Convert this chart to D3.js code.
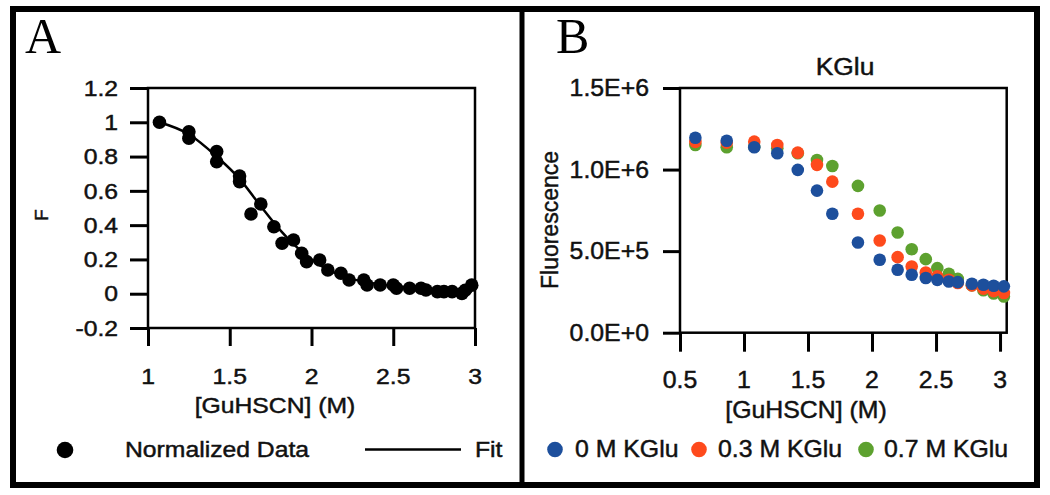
<!DOCTYPE html>
<html><head><meta charset="utf-8">
<script src="https://cdn.jsdelivr.net/npm/d3@7"></script>
<style>
html,body{margin:0;padding:0;background:#fff;}
svg{display:block;}
</style></head>
<body>
<svg id="chart" width="1050" height="495"></svg>
<script>
// ---------- Panel A data ----------
const aX = [1.07,1.25,1.25,1.42,1.42,1.56,1.56,1.63,1.69,1.77,1.82,1.89,1.94,1.97,2.05,2.10,2.18,2.23,2.32,2.34,2.42,2.50,2.52,2.60,2.67,2.70,2.77,2.81,2.86,2.92,2.94,2.98];
const aY = [1.0,0.945,0.907,0.829,0.770,0.687,0.654,0.465,0.523,0.391,0.294,0.313,0.236,0.187,0.197,0.138,0.119,0.080,0.080,0.051,0.051,0.051,0.032,0.032,0.032,0.022,0.012,0.012,0.012,0.002,0.020,0.050];
const fitX = [1.07,1.25,1.42,1.56,1.69,1.80,1.90,2.00,2.10,2.20,2.35,2.50,2.70,2.90,2.98];
const fitY = [1.0,0.93,0.80,0.67,0.51,0.38,0.28,0.20,0.14,0.10,0.065,0.045,0.025,0.015,0.012];
const aXTicks = [1,1.5,2,2.5,3];
const aXTickLabels = ["1","1.5","2","2.5","3"];
const aYTicks = [-0.2,0,0.2,0.4,0.6,0.8,1,1.2];
const aYTickLabels = ["-0.2","0","0.2","0.4","0.6","0.8","1","1.2"];
const aLegend = ["Normalized Data","Fit"];

// ---------- Panel B data ----------
const bX = [0.62,0.865,1.08,1.26,1.42,1.57,1.69,1.89,2.06,2.20,2.31,2.42,2.51,2.60,2.67,2.78,2.87,2.95,3.03];
const b0M = [1.195e6,1.177e6,1.137e6,1.100e6,0.998e6,0.871e6,0.729e6,0.553e6,0.447e6,0.386e6,0.355e6,0.335e6,0.324e6,0.314e6,0.310e6,0.300e6,0.294e6,0.288e6,0.284e6];
const b03M = [1.170e6,1.165e6,1.171e6,1.151e6,1.104e6,1.029e6,0.926e6,0.729e6,0.565e6,0.463e6,0.406e6,0.369e6,0.345e6,0.325e6,0.305e6,0.290e6,0.270e6,0.255e6,0.243e6];
const b07M = [1.151e6,1.137e6,1.140e6,1.130e6,1.100e6,1.059e6,1.022e6,0.900e6,0.749e6,0.614e6,0.512e6,0.451e6,0.396e6,0.361e6,0.330e6,0.290e6,0.260e6,0.240e6,0.222e6];
const bSeriesNames = ["0 M KGlu","0.3 M KGlu","0.7 M KGlu"];
const bXTicks = [0.5,1,1.5,2,2.5,3];
const bXTickLabels = ["0.5","1","1.5","2","2.5","3"];
const bYTicks = [0,5e5,1e6,1.5e6];
const bYTickLabels = ["0.0E+0","5.0E+5","1.0E+6","1.5E+6"];
const bTitle = "KGlu";
const xTitle = "[GuHSCN] (M)";

// ---------- drawing ----------
const svg = d3.select("#chart");
const SANS = "'Liberation Sans', Arial, Helvetica, sans-serif";
const SERIF = "'Liberation Serif', 'Times New Roman', serif";
const colors = ["#1d4f9c","#fe4a1c","#5da12f"];

function label(x, y, txt, size, anchor, sx, rot, baseline) {
  const g = svg.append("g").attr("transform", `translate(${x},${y}) rotate(${rot||0}) scale(${sx||1},1)`);
  const t = g.append("text").attr("x",0).attr("y",0)
    .attr("font-family", SANS).attr("font-size", size)
    .attr("text-anchor", anchor || "middle").attr("fill", "#111")
    .attr("stroke","#111").attr("stroke-width",0.45).text(txt);
  if (baseline) t.attr("dy", baseline);
  return t;
}

// frame
svg.append("rect").attr("x",13).attr("y",9).attr("width",1024).attr("height",476)
  .attr("fill","none").attr("stroke","#000").attr("stroke-width",6);
svg.append("line").attr("x1",522).attr("x2",522).attr("y1",9).attr("y2",485)
  .attr("stroke","#000").attr("stroke-width",5);

// panel letters
svg.append("text").attr("x",25).attr("y",53).attr("font-family",SERIF).attr("font-size",50).text("A");
svg.append("text").attr("x",556).attr("y",53).attr("font-family",SERIF).attr("font-size",50).text("B");

// ===== Panel A =====
const axA = d3.scaleLinear().domain([1,3]).range([148,475]);
const ayA = d3.scaleLinear().domain([-0.2,1.2]).range([328,88]);
const gA = svg.append("g");
gA.append("rect").attr("x",148).attr("y",88).attr("width",327).attr("height",240)
  .attr("fill","none").attr("stroke","#000").attr("stroke-width",2.5);
const xAxisA = gA.append("g").attr("transform","translate(0,328)")
  .call(d3.axisBottom(axA).tickValues(aXTicks).tickSize(18).tickFormat(""));
const yAxisA = gA.append("g").attr("transform","translate(148,0)")
  .call(d3.axisLeft(ayA).tickValues(aYTicks).tickSize(18).tickFormat(""));
[xAxisA,yAxisA].forEach(a=>{a.selectAll("path").remove(); a.selectAll("line").attr("stroke","#000").attr("stroke-width",3);});
aXTicks.forEach((v,i)=>label(axA(v),384,aXTickLabels[i],21.5,"middle",1.15));
aYTicks.forEach((v,i)=>label(118,ayA(v),aYTickLabels[i],21.5,"end",1.15,0,"0.36em"));
label(275,413,xTitle,21.5,"middle",1.15);
label(48,215,"F",19,"middle",1,-90);

const lineA = d3.line().x(d=>axA(d[0])).y(d=>ayA(d[1])).curve(d3.curveMonotoneX);
gA.append("path").attr("d", lineA(fitX.map((x,i)=>[x,fitY[i]])))
  .attr("fill","none").attr("stroke","#000").attr("stroke-width",2.5);
gA.selectAll("circle.pt").data(aX.map((x,i)=>[x,aY[i]])).enter().append("circle")
  .attr("cx",d=>axA(d[0])).attr("cy",d=>ayA(d[1])).attr("r",6.8).attr("fill","#000");

// legend A
svg.append("circle").attr("cx",65).attr("cy",450).attr("r",8.3).attr("fill","#000");
label(125,457,aLegend[0],21.5,"start",1.15);
svg.append("line").attr("x1",365).attr("x2",461).attr("y1",449.5).attr("y2",449.5).attr("stroke","#000").attr("stroke-width",2.5);
label(475,457,aLegend[1],21.5,"start",1.15);

// ===== Panel B =====
const axB = d3.scaleLinear().domain([0.5,3.052]).range([680,1006.7]);
const ayB = d3.scaleLinear().domain([0,1.5e6]).range([332.7,88]);
const gB = svg.append("g");
gB.append("rect").attr("x",680).attr("y",88).attr("width",326.7).attr("height",244.7)
  .attr("fill","none").attr("stroke","#000").attr("stroke-width",2.5);
const xAxisB = gB.append("g").attr("transform","translate(0,332.7)")
  .call(d3.axisBottom(axB).tickValues(bXTicks).tickSize(19).tickFormat(""));
const yAxisB = gB.append("g").attr("transform","translate(680,0)")
  .call(d3.axisLeft(ayB).tickValues(bYTicks).tickSize(17).tickFormat(""));
[xAxisB,yAxisB].forEach(a=>{a.selectAll("path").remove(); a.selectAll("line").attr("stroke","#000").attr("stroke-width",3);});
bXTicks.forEach((v,i)=>label(axB(v),388,bXTickLabels[i],23,"middle",1.08));
bYTicks.forEach((v,i)=>label(649,ayB(v),bYTickLabels[i],23,"end",1.08,0,"0.36em"));
label(806,418,xTitle,23,"middle",1.08);
label(845,75,bTitle,24,"middle",1.1);
label(558,220,"Fluorescence",23,"middle",1,-90);

const bData = [b07M, b03M, b0M];
const bCols = [colors[2], colors[1], colors[0]];
bData.forEach((ser,si)=>{
  gB.append("g").selectAll("circle").data(bX.map((x,i)=>[x,ser[i]])).enter().append("circle")
    .attr("cx",d=>axB(d[0])).attr("cy",d=>ayB(d[1])).attr("r",6.3).attr("fill",bCols[si]);
});

// legend B
const legB = [[555,575],[699,718],[866,884]];
bSeriesNames.forEach((n,i)=>{
  svg.append("circle").attr("cx",legB[i][0]).attr("cy",449.5).attr("r",7.8).attr("fill",colors[i]);
  label(legB[i][1],457,n,23,"start",1.08);
});
</script>
</body></html>
